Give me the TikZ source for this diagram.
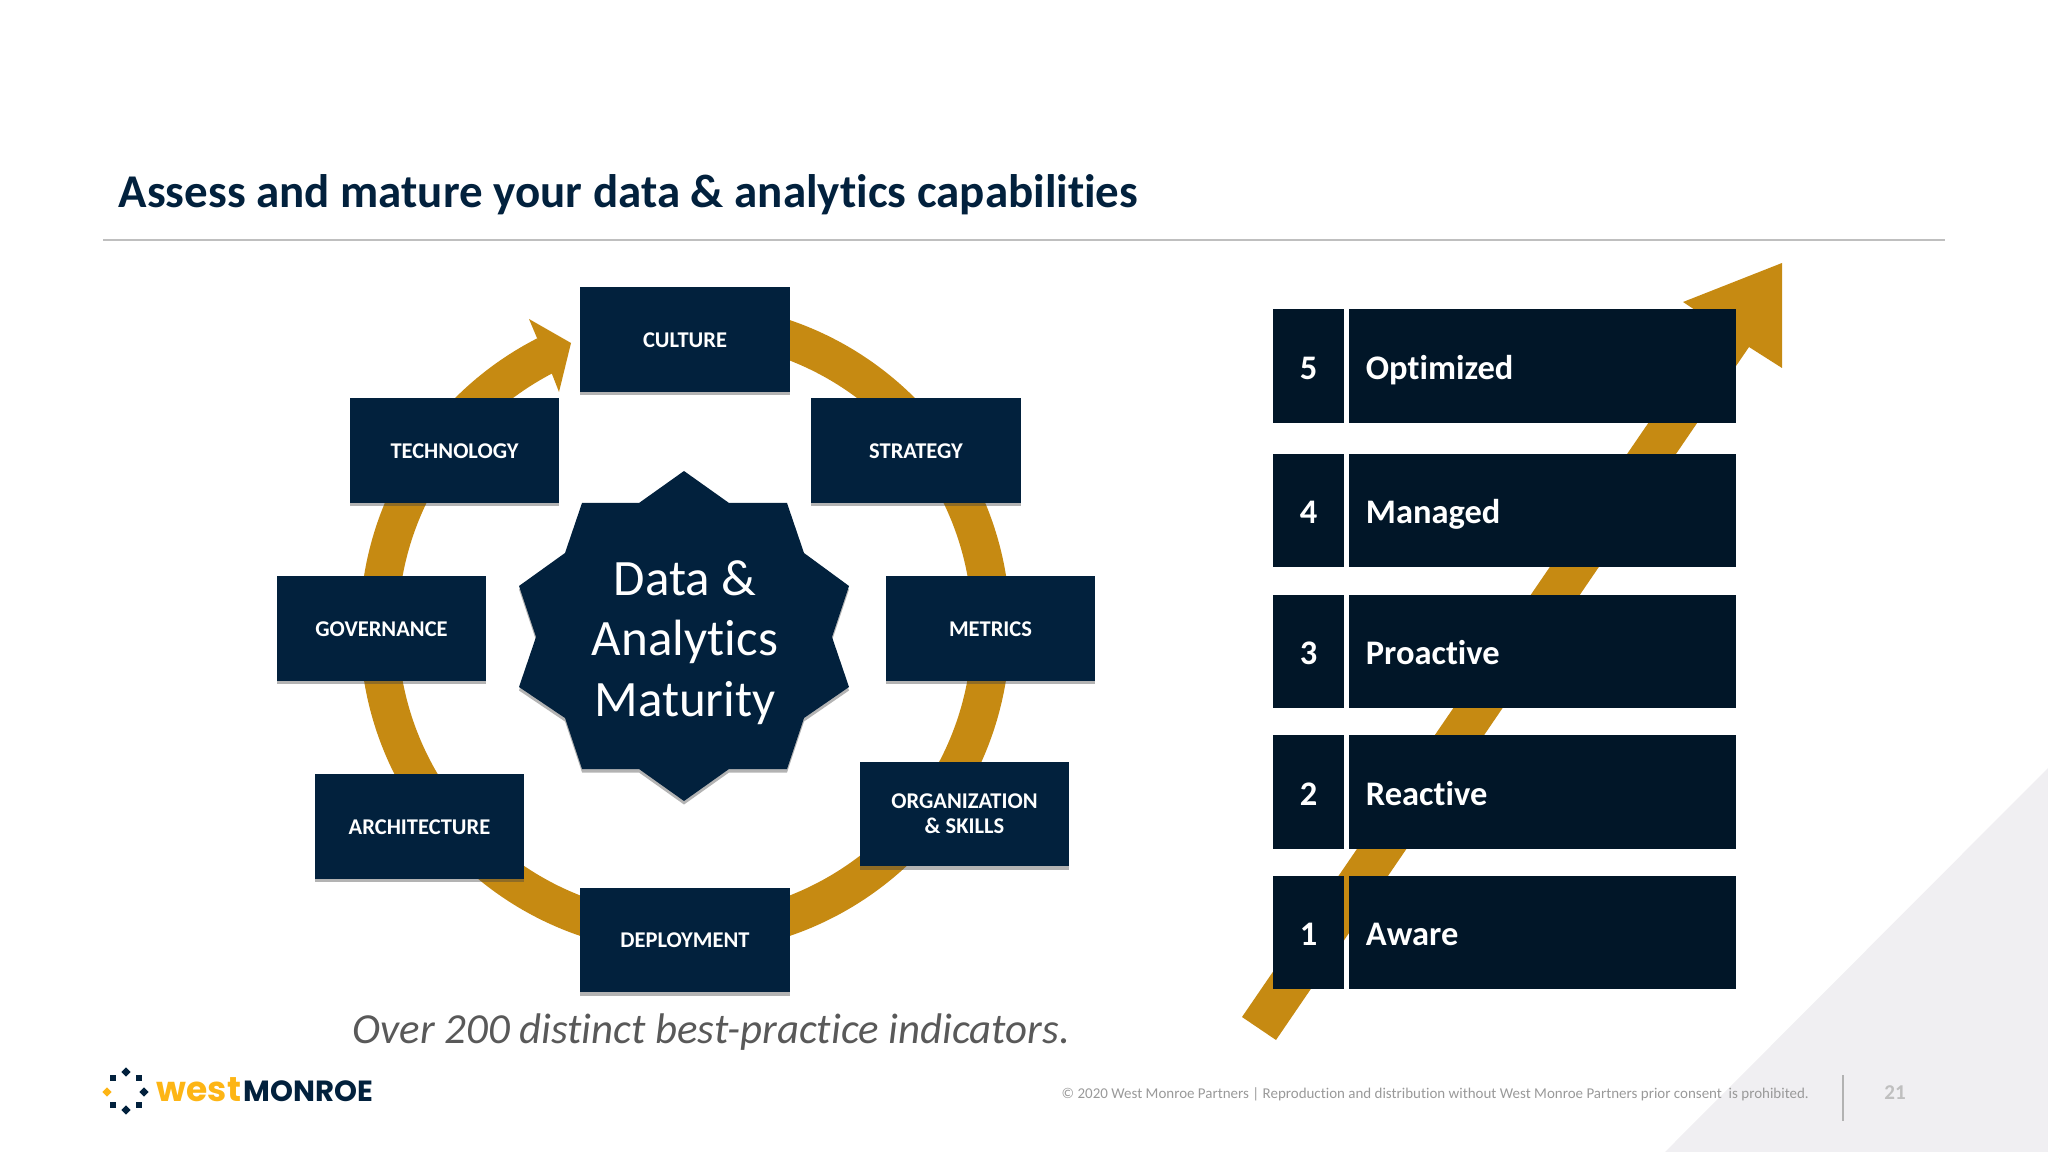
\documentclass[tikz,border=0pt]{standalone}
\usepackage{fontspec}
\setmainfont[Ligatures={TeX,CommonOff}]{Carlito}
\newfontfamily\logofont{Poppins}
\usetikzlibrary{shadows,calc}
\definecolor{navy}{HTML}{02213D}
\definecolor{darknavy}{HTML}{011628}
\definecolor{gold}{HTML}{C68A12}
\definecolor{logoyellow}{HTML}{FDB515}
\definecolor{pale}{HTML}{F0EFF2}
\newcommand{\ringr}{3.06}
\tikzset{
  softshadow/.style={drop shadow={shadow xshift=0pt,shadow yshift=-1pt,opacity=0.4,fill=black!75}},
  ringbox/.style={fill=navy,text=white,font=\fontsize{6.4}{7.1}\selectfont\bfseries,minimum width=2.09cm,minimum height=1.04cm,inner sep=0pt,align=center,text height=5.5pt,text depth=1pt,softshadow},
  numbox/.style={fill=darknavy,text=white,font=\fontsize{9.8}{11}\selectfont\bfseries,minimum width=0.71cm,minimum height=1.13cm,inner sep=0pt,text height=9.5pt,text depth=1.9pt},
  levelbox/.style={fill=darknavy,text=white,font=\fontsize{9.8}{11}\selectfont\bfseries,minimum width=3.87cm,minimum height=1.13cm,inner xsep=0.17cm,inner ysep=0pt,text width=3.53cm,align=left,text height=9.5pt,text depth=1.9pt},
  logosquare/.style={fill=navy,minimum size=0.066cm,inner sep=0pt},
}
\begin{document}
\begin{tikzpicture}[x=0.01cm,y=-0.01cm]
\useasboundingbox (0,0) rectangle (2048,1152);
\fill[pale] (2048,768)--(1665,1152)--(2048,1152)--cycle;
\node[anchor=base west,inner sep=0pt,text=navy,font=\fontsize{13.36}{15}\selectfont\bfseries] (title) at (118,208) {Assess and mature your data \& analytics capabilities};
\coordinate (rulea) at (103,240);
\coordinate (ruleb) at (1945,240);
\draw[black!25,line width=0.5pt] (rulea) -- (ruleb);

\coordinate (ringc) at (685,628);
\draw[gold,line width=0.38cm] (ringc) ++(85:\ringr cm) arc[start angle=85,end angle=-243,radius=\ringr cm];
\fill[gold] (537,338)--(529,319)--(571,343)--(559,392)--(552,374)--cycle;

\node[ringbox] (culture) at (685,339.5) {CULTURE};
\node[ringbox] (strategy) at (916,450.5) {STRATEGY};
\node[ringbox] (metrics) at (990.5,628.5) {METRICS};
\node[ringbox,text height=,text depth=] (organization) at (964.5,814) {ORGANIZATION\\\& SKILLS};
\node[ringbox] (deployment) at (685,940) {DEPLOYMENT};
\node[ringbox] (architecture) at (419.5,826.5) {ARCHITECTURE};
\node[ringbox] (governance) at (381.5,628.5) {GOVERNANCE};
\node[ringbox] (technology) at (454.5,450.5) {TECHNOLOGY};

\fill[navy,softshadow] (684,471)--(729,503)--(787,503)--(804,553)--(849,586)--(832,637)--(849,687)--(804,718)--(787,769)--(729,769)--(684,801)--(639,769)--(582,769)--(565,718)--(519,687)--(536,637)--(519,586)--(565,553)--(582,503)--(639,503)--cycle;
\node[text=white,align=center,inner sep=0pt,font=\fontsize{14.5}{17.2}\selectfont] (maturity) at (685,642.5) {Data \&\\Analytics\\Maturity};

\fill[gold] (1242,1017)--(1276,1040)--(1749,347)--(1782,368)--(1782,263)--(1683,302)--(1716,324)--cycle;

\node[numbox] (n5) at (1308.5,366) {5};
\node[levelbox] (l5) at (1542.5,366) {Optimized};
\node[numbox] (n4) at (1308.5,510.5) {4};
\node[levelbox] (l4) at (1542.5,510.5) {Managed};
\node[numbox] (n3) at (1308.5,651.5) {3};
\node[levelbox] (l3) at (1542.5,651.5) {Proactive};
\node[numbox] (n2) at (1308.5,792) {2};
\node[levelbox] (l2) at (1542.5,792) {Reactive};
\node[numbox] (n1) at (1308.5,932.5) {1};
\node[levelbox] (l1) at (1542.5,932.5) {Aware};

\node[anchor=base west,inner sep=0pt,text=black!65,font=\fontsize{12.18}{14}\selectfont\itshape] (indicators) at (352,1043) {Over 200 distinct best-practice indicators.};

\node[logosquare] (sa) at (113,1078) {};
\node[logosquare] (sb) at (139,1078) {};
\node[logosquare] (sc) at (113,1105) {};
\node[logosquare] (sd) at (139,1105) {};
\node[logosquare,rotate=45] (da) at (126,1072) {};
\node[logosquare,rotate=45] (db) at (126,1110) {};
\node[logosquare,rotate=45] (dc) at (144,1092) {};
\node[logosquare,rotate=45,fill=logoyellow] (dd) at (107,1092) {};
\node[anchor=base west,inner sep=0pt,text=logoyellow,font=\logofont\fontsize{9.8}{11}\selectfont\bfseries] (west) at (156,1101) {west};
\node[anchor=base west,inner sep=0pt,text=navy,font=\logofont\fontsize{8.3}{9}\selectfont\bfseries] (monroe) at (243,1101) {MONROE};

\node[anchor=base west,inner sep=0pt,text=black!40,font=\fontsize{4.26}{5}\selectfont] (footer) at (1061,1098) {© 2020 West Monroe Partners | Reproduction and distribution without West Monroe Partners prior consent\ \ is prohibited.};
\coordinate (sepa) at (1843,1075);
\coordinate (sepb) at (1843,1121);
\draw[black!30,line width=0.3pt] (sepa) -- (sepb);
\node[text=black!25,inner sep=0pt,font=\fontsize{6}{7}\selectfont\bfseries] (pagenum) at (1895,1093) {21};
\end{tikzpicture}
\end{document}
